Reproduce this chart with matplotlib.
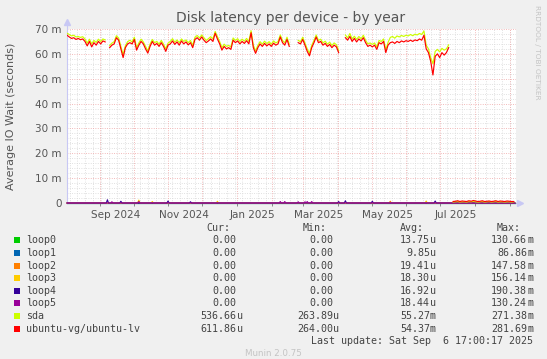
import numpy as np
import matplotlib
matplotlib.use("Agg")
import matplotlib.pyplot as plt
import matplotlib.dates as mdates
from matplotlib.patches import Rectangle
from datetime import datetime, timedelta

W, H = 547, 359
start = datetime(2024, 8, 2, 17, 0)
end = datetime(2025, 9, 6, 17, 0)

# latency values in milliseconds, one value every 2 days per segment
seg_start_days = [0, 38, 206, 248, 344]

lv_vals = [
    [67.5, 66.8, 66.2, 66.5, 65.8, 66.2, 65.7, 66.0, 65.0, 63.2, 65.0, 62.8, 64.5, 63.5, 65.0, 64.0, 65.2, 64.8],
    [62.5, 63.5, 64.0, 66.5, 65.5, 62.0, 58.5, 62.5, 64.0, 64.5, 64.0, 65.8, 61.5, 63.5, 65.0, 64.0, 62.0, 60.3,
     63.0, 65.0, 63.5, 64.2, 63.0, 64.5, 63.0, 61.0, 63.5, 64.0, 65.2, 63.8, 64.8, 63.5, 65.2, 64.0, 64.8, 63.6,
     64.5, 62.5, 65.8, 66.5, 65.5, 66.8, 65.5, 64.5, 65.2, 66.0, 65.0, 68.3, 66.0, 64.0, 61.5, 63.0, 62.0, 62.5,
     61.8, 65.5, 64.5, 65.2, 64.0, 65.0, 64.2, 65.3, 64.0, 68.5, 62.5, 60.2, 62.5, 64.0, 63.0, 64.2, 63.2, 64.0,
     63.0, 64.3, 63.5, 64.0, 66.8, 64.5, 63.5, 65.8, 63.0],
    [64.5, 64.0, 65.8, 63.5, 61.0, 59.2, 62.5, 64.5, 66.8, 64.5, 65.0, 63.5, 64.2, 63.0, 63.8, 62.5, 63.5, 62.8, 60.5],
    [66.5, 65.5, 67.0, 65.0, 66.2, 64.8, 66.0, 65.2, 66.5, 64.5, 63.0, 63.5, 62.8, 63.5, 61.8, 64.5, 64.0, 65.0,
     60.5, 63.5, 64.5, 64.8, 64.2, 65.0, 64.5, 65.2, 64.8, 65.3, 65.0, 65.5, 65.0, 65.6, 65.3, 66.0, 65.5, 67.5,
     62.0, 60.5, 57.0, 51.5, 59.0, 60.0, 58.5, 60.5, 59.5, 60.5, 62.5],
    [0.6, 0.7, 0.9, 0.6, 0.8, 0.7, 0.6, 0.9, 0.7, 1.0, 0.8, 0.6, 0.7, 0.9, 0.6, 0.7, 0.8, 0.6, 0.7, 0.9, 0.6,
     0.8, 0.7, 0.6, 0.8, 0.7, 0.6, 0.6],
]

sda_vals = [
    [68.3, 67.8, 67.2, 67.5, 66.8, 67.0, 66.6, 66.9, 66.0, 64.3, 65.9, 64.0, 65.4, 64.6, 65.9, 65.0, 66.0, 65.6],
    [63.4, 64.3, 64.9, 67.3, 66.4, 63.0, 59.6, 63.3, 64.9, 65.5, 64.8, 66.7, 62.5, 64.4, 65.9, 64.8, 63.0, 61.2,
     63.9, 65.8, 64.5, 65.0, 63.9, 65.4, 63.9, 62.0, 64.3, 65.0, 66.1, 64.7, 65.6, 64.5, 66.0, 65.0, 65.6, 64.5,
     65.4, 63.4, 66.7, 67.4, 66.4, 67.6, 66.5, 65.4, 66.1, 66.9, 66.0, 69.0, 66.9, 64.9, 62.5, 63.9, 63.0, 63.4,
     62.8, 66.4, 65.4, 66.1, 65.0, 65.9, 65.1, 66.2, 65.0, 69.3, 63.5, 61.2, 63.4, 64.9, 63.9, 65.1, 64.1, 64.9,
     63.9, 65.2, 64.4, 64.9, 67.6, 65.4, 64.4, 66.7, 63.9],
    [65.4, 64.9, 66.7, 64.4, 62.0, 60.2, 63.4, 65.4, 67.6, 65.4, 65.9, 64.4, 65.1, 63.9, 64.7, 63.4, 64.4, 63.7, 61.4],
    [67.6, 66.4, 68.2, 66.0, 67.1, 65.8, 67.0, 66.1, 67.5, 65.5, 64.0, 64.4, 63.8, 64.4, 62.8, 65.4, 65.0, 66.0,
     61.6, 64.6, 66.6, 67.0, 66.3, 67.2, 66.8, 67.4, 67.0, 67.5, 67.2, 67.8, 67.3, 67.9, 67.6, 68.2, 67.8, 69.2,
     63.5, 62.0, 58.5, 56.0, 61.0, 61.8, 60.8, 62.2, 61.5, 62.0, 63.6],
    [0.4, 0.5, 0.6, 0.4, 0.5, 0.5, 0.4, 0.6, 0.5, 0.7, 0.5, 0.4, 0.5, 0.6, 0.4, 0.5, 0.6, 0.4, 0.5, 0.6, 0.4,
     0.5, 0.5, 0.4, 0.5, 0.5, 0.4, 0.5],
]

# loop devices: zero except a few tiny spikes (day -> ms)
loop_spikes = {
    "loop0": {},
    "loop1": {},
    "loop2": {64: 0.8, 288: 0.7},
    "loop3": {64: 1.2, 76: 0.6, 134: 0.7, 320: 0.8},
    "loop4": {36: 1.3, 48: 0.7, 90: 0.8, 110: 0.5, 242: 0.6, 248: 0.9, 272: 0.7, 328: 0.8},
    "loop5": {40: 0.5, 64: 0.6, 190: 0.6, 194: 0.6, 206: 0.5, 212: 0.5, 214: 0.6, 218: 0.6},
}

names = ["loop0", "loop1", "loop2", "loop3", "loop4", "loop5", "sda", "ubuntu-vg/ubuntu-lv"]
colors = ["#00CC00", "#0066B3", "#FF8000", "#FFCC00", "#330099", "#990099", "#CCFF00", "#FF0000"]
cur = ["0.00", "0.00", "0.00", "0.00", "0.00", "0.00", "536.66u", "611.86u"]
mins = ["0.00", "0.00", "0.00", "0.00", "0.00", "0.00", "263.89u", "264.00u"]
avgs = ["13.75u", "9.85u", "19.41u", "18.30u", "16.92u", "18.44u", "55.27m", "54.37m"]
maxs = ["130.66m", "86.86m", "147.58m", "156.14m", "190.38m", "130.24m", "271.38m", "281.69m"]

month_labels = ["Sep 2024", "Nov 2024", "Jan 2025", "Mar 2025", "May 2025", "Jul 2025"]
label_dates = [datetime(2024, 9, 15), datetime(2024, 11, 15), datetime(2025, 1, 15),
               datetime(2025, 3, 15), datetime(2025, 5, 15), datetime(2025, 7, 15)]


def build(segs):
    xs, ys = [], []
    for k, (s0, vals) in enumerate(zip(seg_start_days, segs)):
        if k > 0:
            xs.append(s0 - 1)
            ys.append(np.nan)
        for i, v in enumerate(vals):
            xs.append(s0 + 2 * i)
            ys.append(v)
    return [start + timedelta(days=float(d)) for d in xs], np.array(ys)


fig = plt.figure(figsize=(W / 100, H / 100), dpi=100, facecolor="#F0F0F0")
ax = fig.add_axes([67 / W, 1 - 203 / H, (516 - 67) / W, (203 - 29) / H])
ax.set_facecolor("white")
ax.set_xlim(start, end)
ax.set_ylim(0, 70)

dot = (0, (0.8, 1.6))
# minor grid
for v in range(2, 70, 2):
    if v % 10:
        ax.axhline(v, color="#DADADA", lw=0.7, ls=dot, zorder=0)
d = datetime(2024, 8, 5)
while d < end:
    ax.axvline(d, color="#DADADA", lw=0.7, ls=dot, zorder=0)
    d += timedelta(days=7)
# major grid
for v in range(10, 71, 10):
    ax.axhline(v, color="#F0AAAA", lw=0.7, ls=dot, zorder=1)
month_starts = []
y0, m0 = 2024, 9
while datetime(y0, m0, 1) < end:
    month_starts.append(datetime(y0, m0, 1))
    m0 += 1
    if m0 > 12:
        m0, y0 = 1, y0 + 1
for ms in month_starts:
    ax.axvline(ms, color="#F0AAAA", lw=0.7, ls=dot, zorder=1)

# loops
loop_days = np.arange(0, 400)
loop_dates = [start + timedelta(days=float(x)) for x in loop_days]
for name, c in zip(names[:6], colors[:6]):
    vals = np.zeros(len(loop_days))
    for day, v in loop_spikes[name].items():
        vals[day] = v
    ax.plot(loop_dates, vals, color=c, lw=0.8, zorder=3, clip_on=False)

xd, ys = build(sda_vals)
ax.plot(xd, ys, color=colors[6], lw=0.85, zorder=4)
xd, ys = build(lv_vals)
ax.plot(xd, ys, color=colors[7], lw=0.85, zorder=5)

for s in ["top", "right"]:
    ax.spines[s].set_visible(False)
ax.spines["left"].set_color("#C8C8F4")
ax.spines["bottom"].set_color("#C8C8F4")
ax.spines["left"].set_bounds(0, 72.5)
ax.plot([0], [1.04], marker="^", color="#C8C8F4", ms=4, transform=ax.transAxes, clip_on=False)
ax.plot([1.008], [0], marker=">", color="#C8C8F4", ms=4, transform=ax.transAxes, clip_on=False)
ax.plot([1, 1.008], [0, 0], color="#C8C8F4", lw=0.8, transform=ax.transAxes, clip_on=False)

ax.set_yticks(range(0, 71, 10))
ax.set_yticklabels(["0"] + [f"{v} m" for v in range(10, 71, 10)])
ax.tick_params(axis="y", length=0, pad=4, labelsize=7.5, labelcolor="#555555")
ax.set_xticks(month_starts)
ax.set_xticklabels([])
ax.tick_params(axis="x", length=2, color="#777777", width=0.6)
for lab, ld in zip(month_labels, label_dates):
    ax.text(mdates.date2num(ld), -2.9, lab, ha="center", va="top", fontsize=7.5, color="#555555")

fig.text(291 / W, 1 - 18 / H, "Disk latency per device - by year", ha="center", va="center",
         fontsize=10, color="#555555")
fig.text(11 / W, 1 - 116 / H, "Average IO Wait (seconds)", rotation=90, ha="center", va="center",
         fontsize=8, color="#555555")
fig.text(537 / W, 1 - 5 / H, "RRDTOOL / TOBI OETIKER", rotation=270, ha="center", va="top",
         fontsize=5.3, color="#C4C4C4")

mono = "DejaVu Sans Mono"
fs = 7.2
tc = "#444444"
hy = 1 - 228 / H
for lab, xl in zip(["Cur:", "Min:", "Avg:", "Max:"], [206, 303, 400, 497]):
    fig.text(xl / W, hy, lab, ha="left", va="center", family=mono, fontsize=fs, color=tc)

col_right = [242.5, 339.5, 436, 533]
for i, (name, c) in enumerate(zip(names, colors)):
    yc = 240.4 + 12.6 * i
    fig.patches.append(Rectangle((14 / W, 1 - (yc + 3) / H), 6 / W, 6 / H,
                                 transform=fig.transFigure, facecolor=c, edgecolor="none"))
    fig.text(26 / W, 1 - yc / H, name, ha="left", va="center", family=mono, fontsize=fs, color=tc)
    for xr, val in zip(col_right, [cur[i], mins[i], avgs[i], maxs[i]]):
        num = val.rstrip("um")
        unit = val[len(num):]
        fig.text((xr - 6) / W, 1 - yc / H, num, ha="right", va="center", family=mono, fontsize=fs, color=tc)
        if unit:
            fig.text((xr - 6) / W, 1 - yc / H, unit, ha="left", va="center", family=mono, fontsize=fs, color=tc)

fig.text(533 / W, 1 - 340.5 / H, "Last update: Sat Sep  6 17:00:17 2025", ha="right", va="center",
         family=mono, fontsize=fs, color=tc)
fig.text(273 / W, 1 - 354 / H, "Munin 2.0.75", ha="center", va="center", fontsize=6.3, color="#C4C4C4")

fig.savefig("out.png", dpi=100, facecolor=fig.get_facecolor())
